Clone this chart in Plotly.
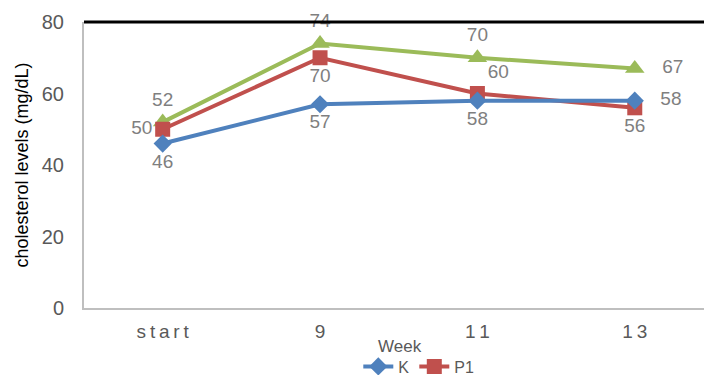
import plotly.graph_objects as go

weeks = ["start", "9", "11", "13"]
tick_text = ["s\u2009t\u2009a\u2009r\u2009t", "9", "1\u20091", "1\u20093"]
k_vals = [46, 57, 58, 58]
p1_vals = [50, 70, 60, 56]
p2_vals = [52, 74, 70, 67]

FONT = "Liberation Sans, Arial, sans-serif"
LABEL = dict(family=FONT, size=19, color="#7f7f7f")


def labels(vals, right_idx=()):
    # values placed to the right of a marker get a little extra gap
    return [("   " + str(v)) if i in right_idx else str(v) for i, v in enumerate(vals)]


fig = go.Figure()

fig.add_trace(go.Scatter(
    x=weeks, y=p2_vals, name="P2", mode="lines+markers+text",
    line=dict(color="#9BBB59", width=4),
    marker=dict(symbol="triangle-up", size=17, color="#9BBB59"),
    text=labels(p2_vals, (3,)),
    textposition=["top center", "top center", "top center", "middle right"],
    textfont=LABEL, showlegend=False, cliponaxis=False,
))
fig.add_trace(go.Scatter(
    x=weeks, y=p1_vals, name="P1", mode="lines+markers+text",
    line=dict(color="#C0504D", width=4),
    marker=dict(symbol="square", size=15, color="#C0504D"),
    text=labels(p1_vals),
    textposition=["middle left", "bottom center", "top right", "bottom center"],
    textfont=LABEL, cliponaxis=False,
))
fig.add_trace(go.Scatter(
    x=weeks, y=k_vals, name="K", mode="lines+markers+text",
    line=dict(color="#4F81BD", width=4),
    marker=dict(symbol="diamond", size=14, color="#4F81BD"),
    text=labels(k_vals, (3,)),
    textposition=["bottom center", "bottom center", "bottom center", "middle right"],
    textfont=LABEL, cliponaxis=False,
))

fig.update_layout(
    width=704, height=375,
    margin=dict(l=84, r=0, t=22, b=67, autoexpand=False),
    paper_bgcolor="white", plot_bgcolor="white",
    font=dict(family=FONT),
    xaxis=dict(
        type="category", categoryorder="array", categoryarray=weeks,
        range=[-0.5, 3.44], automargin=False,
        tickvals=weeks, ticktext=tick_text,
        tickfont=dict(family=FONT, size=19, color="#595959"),
        showgrid=False, zeroline=False,
        showline=True, linecolor="#bfbfbf", linewidth=2,
        ticks="outside", ticklen=5, tickcolor="rgba(0,0,0,0)",
    ),
    yaxis=dict(
        range=[0, 80], tickvals=[0, 20, 40, 60, 80], automargin=False,
        tickfont=dict(family=FONT, size=20, color="#595959"),
        showgrid=False, zeroline=False,
        showline=True, linecolor="#bfbfbf", linewidth=2,
        ticks="outside", ticklen=14, tickcolor="rgba(0,0,0,0)",
        title=dict(text="cholesterol levels (mg/dL)", font=dict(family=FONT, size=18, color="black"), standoff=8),
    ),
    legend=dict(
        orientation="h", x=0.54, xanchor="center",
        yref="container", y=0.068, yanchor="top",
        traceorder="reversed",
        font=dict(family=FONT, size=16, color="#595959"),
        bgcolor="rgba(0,0,0,0)", tracegroupgap=0,
    ),
    annotations=[dict(
        text="Week", xref="paper", yref="paper", x=0.51, y=-0.093,
        xanchor="center", yanchor="top", showarrow=False,
        font=dict(family=FONT, size=17, color="#595959"),
    )],
)

# dark frame line along the top of the plotting area
fig.add_shape(type="line", xref="paper", yref="paper", x0=0, x1=1, y0=1, y1=1,
              line=dict(color="black", width=3))

fig.write_html("out.html")
